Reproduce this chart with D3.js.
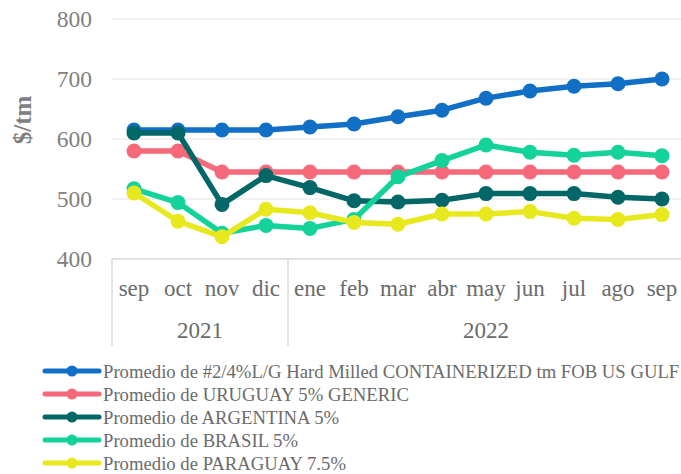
<!DOCTYPE html>
<html>
<head>
<meta charset="utf-8">
<script src="https://cdn.jsdelivr.net/npm/d3@7"></script>
<style>
  body { margin: 0; background: #fff; }
</style>
</head>
<body>
<svg id="chart" width="681" height="474"></svg>
<script>
// months shown on the x axis, grouped by year
const months = ["sep", "oct", "nov", "dic", "ene", "feb", "mar", "abr", "may", "jun", "jul", "ago", "sep"];
const years = [{ label: "2021", count: 4 }, { label: "2022", count: 9 }];
const yTicks = [400, 500, 600, 700, 800];

const usGulf = [615, 615, 615, 615, 620, 625, 637, 648, 668, 680, 688, 692, 700];
const uruguay = [580, 580, 545, 545, 545, 545, 545, 545, 545, 545, 545, 545, 545];
const argentina = [610, 610, 491, 539, 519, 497, 495, 498, 509, 509, 509, 503, 500];
const brasil = [517, 494, 443, 456, 451, 466, 537, 564, 590, 578, 573, 578, 572];
const paraguay = [510, 463, 437, 483, 477, 461, 458, 475, 475, 479, 468, 466, 474];

const seriesNames = [
  "Promedio de #2/4%L/G Hard Milled CONTAINERIZED tm FOB US GULF",
  "Promedio de URUGUAY 5% GENERIC",
  "Promedio de ARGENTINA 5%",
  "Promedio de BRASIL 5%",
  "Promedio de PARAGUAY 7.5%"
];
const seriesColors = ["#1170c6", "#f6697a", "#046767", "#13d29a", "#e8e81f"];
const seriesValues = [usGulf, uruguay, argentina, brasil, paraguay];

const serif = '"Liberation Serif", "Times New Roman", Times, serif';

let svg = d3.select("#chart");
let plotLeft = 112, plotRight = 684, plotTop = 19, plotBottom = 259;

// band per month (index keeps the two "sep" apart)
let x = d3.scaleBand().domain(d3.range(months.length)).range([plotLeft, plotRight]).padding(0);
let y = d3.scaleLinear().domain([400, 800]).range([plotBottom, plotTop]);

// gridlines
svg.append("g").selectAll("line")
  .data(yTicks.filter(d => d > 400))
  .join("line")
  .attr("x1", plotLeft).attr("x2", 681)
  .attr("y1", d => y(d)).attr("y2", d => y(d))
  .attr("stroke", "#ececec").attr("stroke-width", 1.5);

// y labels
let yAxis = d3.axisLeft(y).tickValues(yTicks).tickSize(0).tickPadding(0);
let gy = svg.append("g").attr("transform", "translate(92,0)").call(yAxis);
gy.select(".domain").remove();
gy.selectAll("text")
  .style("font-family", serif).style("font-size", "23.5px")
  .attr("fill", "#808080");

svg.append("text")
  .attr("transform", "translate(31,120) rotate(-90)")
  .attr("text-anchor", "middle")
  .style("font-family", serif).style("font-size", "25px").style("font-weight", "bold")
  .attr("fill", "#808080")
  .text("$/tm");

// x axis: baseline, month labels, year groups
svg.append("line")
  .attr("x1", plotLeft).attr("x2", 681).attr("y1", plotBottom).attr("y2", plotBottom)
  .attr("stroke", "#d9d9d9").attr("stroke-width", 1.5);

svg.append("g").selectAll("text")
  .data(months)
  .join("text")
  .attr("x", (d, i) => x(i) + x.bandwidth() / 2)
  .attr("y", 296)
  .attr("text-anchor", "middle")
  .style("font-family", serif).style("font-size", "23px")
  .attr("fill", "#6b6b6b")
  .text(d => d);

let start = 0;
let yearBounds = years.map(yr => {
  let b = { label: yr.label, x0: x(start), x1: start + yr.count < months.length ? x(start + yr.count) : plotRight };
  start += yr.count;
  return b;
});

svg.append("g").selectAll("line")
  .data(yearBounds.map(b => b.x0))
  .join("line")
  .attr("x1", d => d).attr("x2", d => d)
  .attr("y1", plotBottom).attr("y2", 346)
  .attr("stroke", "#d9d9d9").attr("stroke-width", 1.5);

svg.append("g").selectAll("text")
  .data(yearBounds)
  .join("text")
  .attr("x", d => (d.x0 + d.x1) / 2)
  .attr("y", 338)
  .attr("text-anchor", "middle")
  .style("font-family", serif).style("font-size", "23px")
  .attr("fill", "#6b6b6b")
  .text(d => d.label);

// series
let line = d3.line().x((d, i) => x(i) + x.bandwidth() / 2).y(d => y(d));

seriesValues.forEach((vals, k) => {
  let g = svg.append("g");
  g.append("path")
    .attr("d", line(vals))
    .attr("fill", "none")
    .attr("stroke", seriesColors[k])
    .attr("stroke-width", 5.5)
    .attr("stroke-linejoin", "round");
  g.selectAll("circle")
    .data(vals)
    .join("circle")
    .attr("cx", (d, i) => x(i) + x.bandwidth() / 2)
    .attr("cy", d => y(d))
    .attr("r", 7.5)
    .attr("fill", seriesColors[k]);
});

// legend
let legend = svg.append("g").selectAll("g")
  .data(seriesNames)
  .join("g")
  .attr("transform", (d, i) => "translate(0," + (371 + i * 23) + ")");
legend.append("line")
  .attr("x1", 45).attr("x2", 99)
  .attr("stroke", (d, i) => seriesColors[i]).attr("stroke-width", 5)
  .attr("stroke-linecap", "round");
legend.append("circle")
  .attr("cx", 72).attr("r", 5.5)
  .attr("fill", (d, i) => seriesColors[i]);
legend.append("text")
  .attr("x", 103).attr("dy", "0.35em")
  .style("font-family", serif).style("font-size", "18.7px")
  .attr("fill", "#6b6b6b")
  .text(d => d);
</script>
</body>
</html>
